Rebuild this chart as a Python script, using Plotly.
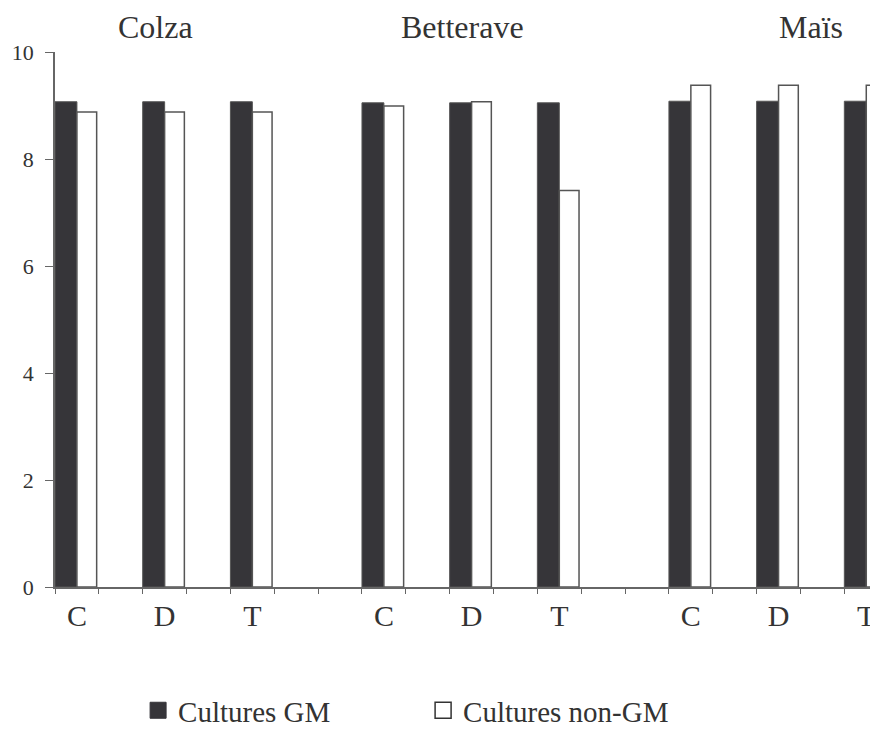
import plotly.graph_objects as go

# slot positions (each slot = one category width), groups separated by empty slots
slots = [0, 2, 4, 7, 9, 11, 14, 16, 18]
labels = ["C", "D", "T", "C", "D", "T", "C", "D", "T"]
gm = [9.07, 9.07, 9.07, 9.05, 9.05, 9.05, 9.08, 9.08, 9.08]
non_gm = [8.88, 8.88, 8.88, 8.99, 9.07, 7.41, 9.38, 9.38, 9.38]
crops = ["Colza", "Betterave", "Maïs"]
crop_pos = [2.3, 9.3, 17.25]

centers = [s + 0.5 for s in slots]
txt = "#333333"
font = "Liberation Serif, Times New Roman, serif"
dark = "#363539"

fig = go.Figure()
fig.add_trace(go.Bar(x=centers, y=gm, name="Cultures GM", showlegend=False,
                     offset=-0.5, width=0.5,
                     marker=dict(color=dark, line=dict(color="#555555", width=1))))
fig.add_trace(go.Bar(x=centers, y=non_gm, name="Cultures non-GM", showlegend=False,
                     offset=0.0, width=0.45,
                     marker=dict(color="white", line=dict(color="#555555", width=1.5))))

# legend entries with square symbols
fig.add_trace(go.Scatter(x=[None], y=[None], mode="markers", name="Cultures GM",
                         marker=dict(symbol="square", size=19, color=dark,
                                     line=dict(color=dark, width=1))))
fig.add_trace(go.Scatter(x=[None], y=[None], mode="markers", name="Cultures non-GM",
                         marker=dict(symbol="square", size=19, color="white",
                                     line=dict(color="#333333", width=1.5))))

for name, pos in zip(crops, crop_pos):
    fig.add_annotation(x=pos, y=1, xref="x", yref="paper", yanchor="bottom",
                       text=name, showarrow=False, yshift=5,
                       font=dict(size=32, color=txt, family=font))

fig.update_layout(
    width=878, height=751,
    barmode="overlay",
    plot_bgcolor="white", paper_bgcolor="white",
    margin=dict(l=47, r=0, t=44, b=172),
    font=dict(family=font, color=txt),
    showlegend=True,
    legend=dict(orientation="h", x=0.1, xanchor="left", y=-0.183, yanchor="top",
                font=dict(size=29, color=txt, family=font), itemsizing="trace",
                entrywidth=240, entrywidthmode="pixels"),
)
fig.update_xaxes(range=[0, 18.95], tickvals=centers, ticktext=labels, ticks="",
                 tickfont=dict(size=30, color=txt, family=font), ticklabelstandoff=1,
                 showline=True, linecolor="#666666", linewidth=1.5,
                 showgrid=False, zeroline=False,
                 minor=dict(tickvals=list(range(0, 20)), ticks="outside",
                            ticklen=5, tickcolor="#666666", showgrid=False))
fig.update_yaxes(range=[0, 10], tickvals=[0, 2, 4, 6, 8, 10], ticks="outside",
                 ticklen=8, tickcolor="#666666",
                 tickfont=dict(size=22, color=txt, family=font),
                 ticklabelstandoff=7,
                 showline=True, linecolor="#666666", linewidth=1.5,
                 showgrid=False, zeroline=False)

fig.write_html("out.html")
